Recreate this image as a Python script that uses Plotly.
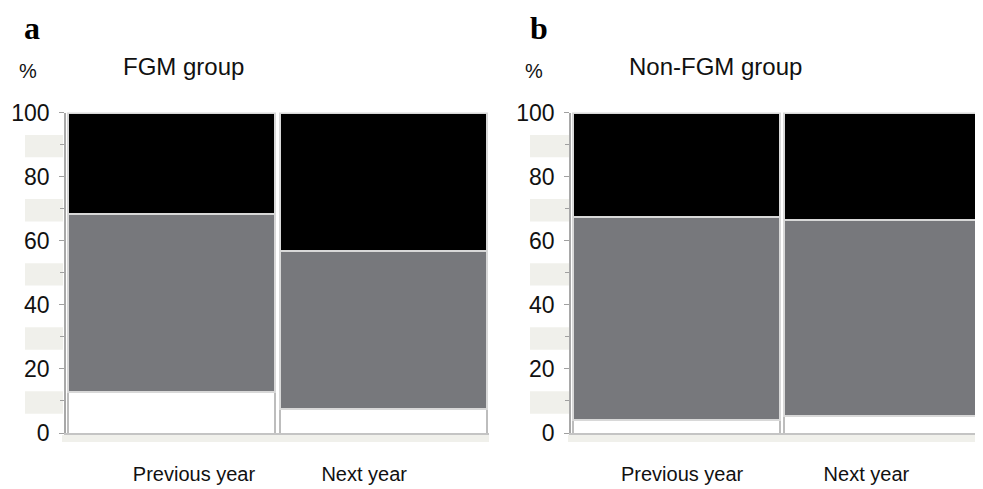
import plotly.graph_objects as go

categories = ["Previous year", "Next year"]
panel_titles = ["FGM group", "Non-FGM group"]
panel_letters = ["a", "b"]

# stacked shares (%) bottom -> top: white, gray, black
fgm_white = [12.8, 7.5]
fgm_gray = [55.8, 49.3]
fgm_black = [31.4, 43.2]

nonfgm_white = [4.1, 5.6]
nonfgm_gray = [63.6, 60.9]
nonfgm_black = [32.3, 33.5]

y_ticks = [0, 20, 40, 60, 80, 100]

# the page body adds an 8px margin; size the figure to fill the window exactly
OFF = 8
W, H = 983 - OFF, 489 - OFF
def px(x):
    return (x - OFF) / W
def py(y):
    return (H - (y - OFF)) / H

colors = {"white": "#ffffff", "gray": "#77787c", "black": "#000000"}
outline = {"white": "#bdbdbd", "gray": "#d8d8d8", "black": "#d8d8d8"}

fig = go.Figure()
panels = [
    (fgm_white, fgm_gray, fgm_black, "x", "y"),
    (nonfgm_white, nonfgm_gray, nonfgm_black, "x2", "y2"),
]
xc = [0.5, 1.5]
for (wv, gv, bv, xa, ya) in panels:
    for name, vals in (("white", wv), ("gray", gv), ("black", bv)):
        fig.add_trace(go.Bar(
            x=xc, y=vals, width=0.98, xaxis=xa, yaxis=ya,
            marker=dict(color=colors[name], line=dict(color=outline[name], width=2)),
            showlegend=False, hoverinfo="y",
        ))

ydom = [py(433), py(112.5)]
axis_common_y = dict(
    range=[0, 100], tickvals=y_ticks, ticks="outside", ticklen=5, tickcolor="#a0a0a0",
    tickfont=dict(family="Liberation Sans, Arial", size=23, color="#111111"),
    showgrid=False, zeroline=False, showline=True, linecolor="#a8a8a8", linewidth=1.5,
    minor=dict(dtick=10, ticks="outside", ticklen=4, tickcolor="#a0a0a0", showgrid=False),
    ticklabelstandoff=5, domain=ydom, automargin=False,
)
axis_common_x = dict(
    showgrid=False, zeroline=False, showline=True, linecolor="#c4c4c4", linewidth=1.5,
    ticks="", tickfont=dict(family="Liberation Sans, Arial", size=20, color="#111111"),
    ticklabelstandoff=22, automargin=False,
)
fig.update_layout(
    width=W, height=H, margin=dict(l=0, r=0, t=0, b=0, pad=0, autoexpand=False),
    barmode="stack", bargap=0, plot_bgcolor="white", paper_bgcolor="white",
    xaxis=dict(domain=[px(66), px(489)], range=[0, 2], tickvals=[0.605, 1.41], ticktext=categories,
               anchor="y", **axis_common_x),
    xaxis2=dict(domain=[px(571), 1.0], range=[0, 1.95], tickvals=[0.526, 1.398], ticktext=categories,
                anchor="y2", **axis_common_x),
    yaxis=dict(anchor="x", **axis_common_y),
    yaxis2=dict(anchor="x2", **axis_common_y),
)

# decorative stripes in the tick label area
stripes = [(6, 13), (26, 33), (46, 53), (66, 73), (86, 93)]
shapes = []
for (x0, x1, yref) in ((25, 63, "y"), (530, 569, "y2")):
    for s0, s1 in stripes:
        shapes.append(dict(type="rect", xref="paper", yref=yref, x0=px(x0), x1=px(x1), y0=s0, y1=s1,
                           fillcolor="#f0f0eb", line=dict(width=0), layer="below"))
for (x0, x1) in ((62, 489), (568, 983)):
    shapes.append(dict(type="rect", xref="paper", yref="paper", x0=px(x0), x1=px(x1),
                       y0=py(442), y1=py(435), fillcolor="#f0f0eb", line=dict(width=0), layer="below"))
fig.update_layout(shapes=shapes)

ann = []
for i, (lx, tx) in enumerate(((22, 121), (528, 627))):
    ann.append(dict(text=f"<b>{panel_letters[i]}</b>", xref="paper", yref="paper", x=px(lx), y=py(28),
                    xanchor="left", yanchor="middle", showarrow=False,
                    font=dict(family="Liberation Serif, Times New Roman", size=32, color="#000")))
    ann.append(dict(text="%", xref="paper", yref="paper", x=px(lx - 5), y=py(71),
                    xanchor="left", yanchor="middle", showarrow=False,
                    font=dict(family="Liberation Sans, Arial", size=20, color="#111")))
    ann.append(dict(text=panel_titles[i], xref="paper", yref="paper", x=px(tx), y=py(66),
                    xanchor="left", yanchor="middle", showarrow=False,
                    font=dict(family="Liberation Sans, Arial", size=24, color="#111")))
fig.update_layout(annotations=ann)

fig.write_html("out.html")
